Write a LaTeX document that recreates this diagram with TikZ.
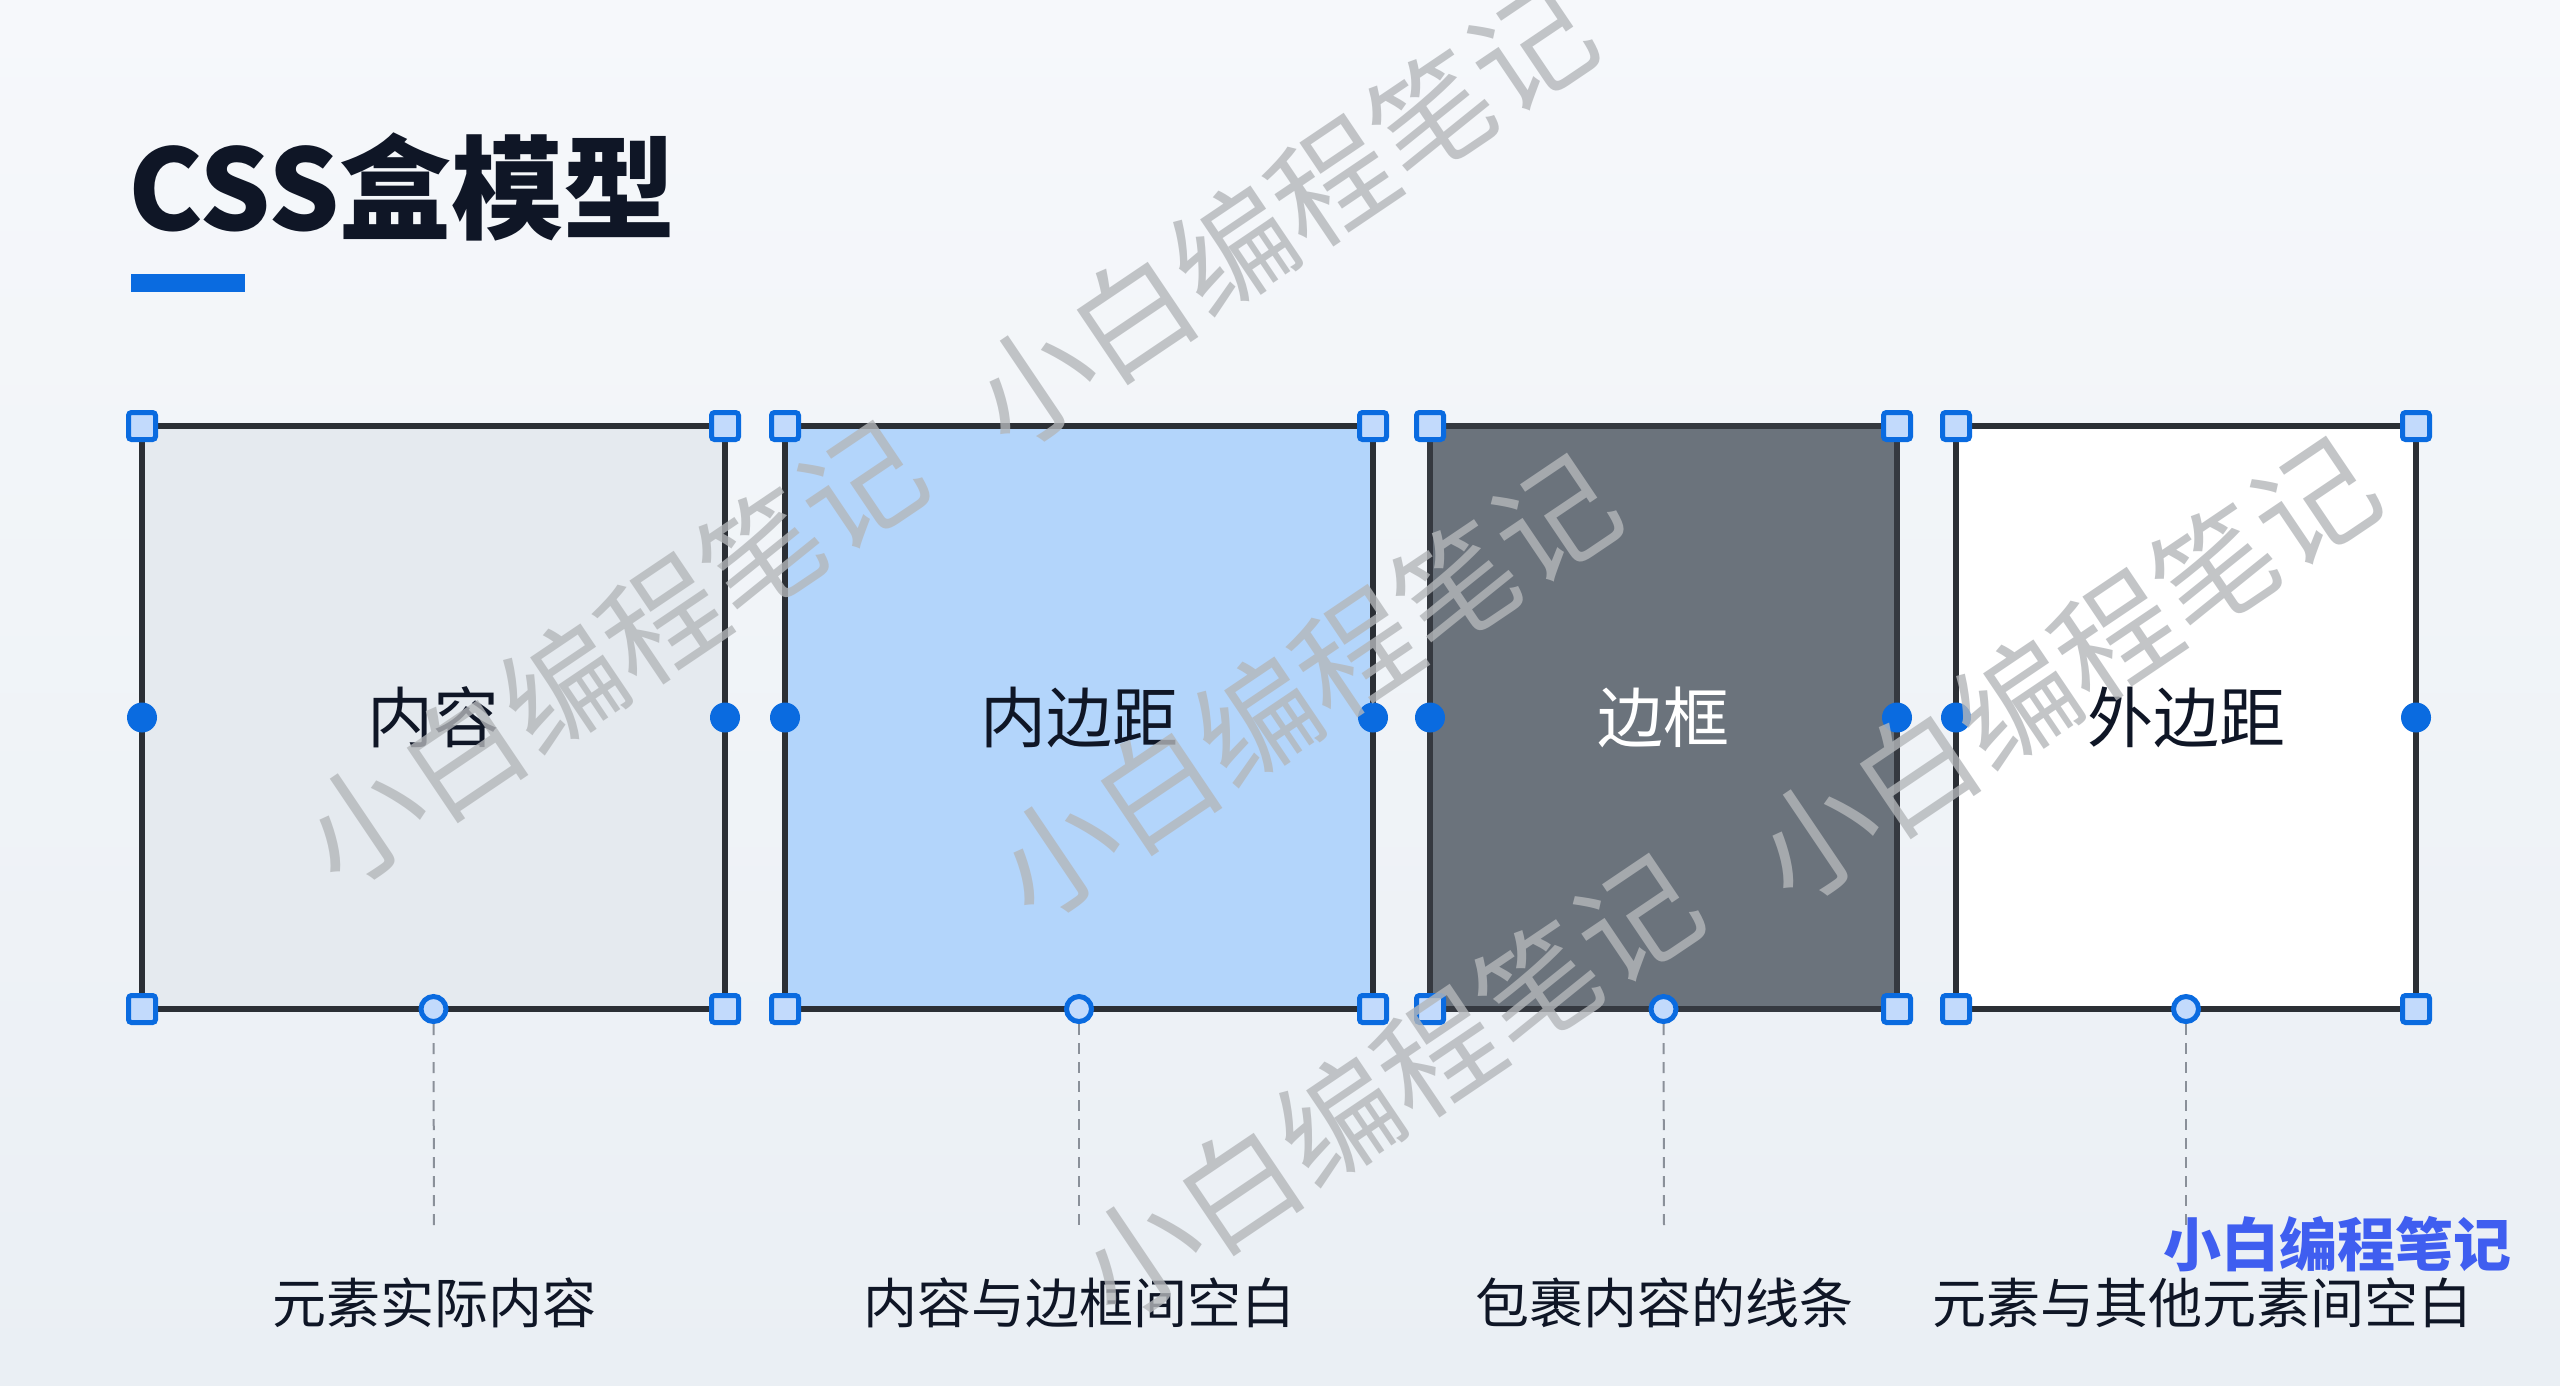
\documentclass[tikz,border=0pt]{standalone}
\usepackage{fontspec}
\setmainfont{Noto Sans CJK SC}
\definecolor{bgtop}{HTML}{F6F8FB}
\definecolor{bgbot}{HTML}{EAEFF4}
\definecolor{ink}{HTML}{0F1626}
\definecolor{frame}{HTML}{2B2F35}
\definecolor{hblue}{HTML}{0A6BE0}
\definecolor{hlight}{HTML}{C2DAFC}
\definecolor{fillA}{HTML}{E5EAEF}
\definecolor{fillB}{HTML}{B3D5FB}
\definecolor{fillC}{HTML}{6B737C}
\definecolor{fillD}{HTML}{FFFFFF}
\definecolor{dashc}{HTML}{8A9099}
\definecolor{wmgray}{HTML}{B4B7BA}
\definecolor{wmblue}{HTML}{3F5EF0}
\begin{document}
\begin{tikzpicture}[x=1pt,y=-1pt,
  cssbox/.style={rectangle, draw=frame, line width=6pt, inner sep=0pt, outer sep=0pt, minimum height=583pt},
  sqhandle/.style={rectangle, fill=hlight, draw=hblue, line width=5pt, rounded corners=3pt, minimum size=27pt, inner sep=0pt},
  dothandle/.style={circle, fill=hblue, minimum size=30pt, inner sep=0pt},
  ringhandle/.style={circle, fill=hlight, draw=hblue, line width=5pt, minimum size=25pt, inner sep=0pt},
  boxlabel/.style={font=\fontsize{66}{70}\selectfont, text=ink},
  desc/.style={font=\fontsize{54}{60}\selectfont, text=ink},
  guide/.style={draw=dashc, line width=2pt, dash pattern=on 11pt off 8pt},
  wm/.style={font=\fontsize{120}{126}\selectfont, text=wmgray, opacity=0.8, rotate=34}
]
\useasboundingbox (0,0) rectangle (2560,1385);
\shade[top color=bgtop, bottom color=bgbot] (0,0) rectangle (2560,1385);

% title
\node[anchor=base west, inner sep=0pt, font=\fontsize{112}{120}\selectfont\bfseries, text=ink] (title) at (128,230) {CSS盒模型};
\fill[hblue] (131,274) rectangle (245,292);

% boxes
\node[cssbox, fill=fillA, minimum width=583pt] (b1) at (433.5,717.5) {};
\node[cssbox, fill=fillB, minimum width=588pt] (b2) at (1079,717.5) {};
\node[cssbox, fill=fillC, draw=frame!85!fillC, minimum width=467pt] (b3) at (1663.5,717.5) {};
\node[cssbox, fill=fillD, minimum width=460pt] (b4) at (2186,717.5) {};

\node[boxlabel] (t1) at (b1.center) {内容};
\node[boxlabel] (t2) at (b2.center) {内边距};
\node[boxlabel, text=white] (t3) at (b3.center) {边框};
\node[boxlabel] (t4) at (b4.center) {外边距};

% handles
\foreach \b in {b1,b2,b3,b4}{
  \node[sqhandle] (\b-nw) at (\b.north west) {};
  \node[sqhandle] (\b-ne) at (\b.north east) {};
  \node[sqhandle] (\b-sw) at (\b.south west) {};
  \node[sqhandle] (\b-se) at (\b.south east) {};
  \node[dothandle] (\b-w) at (\b.west) {};
  \node[dothandle] (\b-e) at (\b.east) {};
  \node[ringhandle] (\b-s) at (\b.south) {};
}

% guide lines and descriptions
\coordinate (e1) at (434,1232);
\coordinate (e2) at (1079,1232);
\coordinate (e3) at (1664,1232);
\coordinate (e4) at (2186,1232);
\draw[guide] (b1-s.south) -- (e1);
\draw[guide] (b2-s.south) -- (e2);
\draw[guide] (b3-s.south) -- (e3);
\draw[guide] (b4-s.south) -- (e4);

\node[desc] (d1) at (434,1303) {元素实际内容};
\node[desc] (d2) at (1079,1303) {内容与边框间空白};
\node[desc] (d3) at (1664,1303) {包裹内容的线条};
\node[desc] (d4) at (2202,1303) {元素与其他元素间空白};

% watermarks
\node[wm] (w1) at (612,653) {小白编程笔记};
\node[wm] (w2) at (1282,215) {小白编程笔记};
\node[wm] (w3) at (1306,686) {小白编程笔记};
\node[wm] (w4) at (1388,1086) {小白编程笔记};
\node[wm] (w5) at (2065,669) {小白编程笔记};
\node[font=\fontsize{58}{62}\selectfont\bfseries, text=wmblue] (wb) at (2337,1244) {小白编程笔记};
\end{tikzpicture}
\end{document}
